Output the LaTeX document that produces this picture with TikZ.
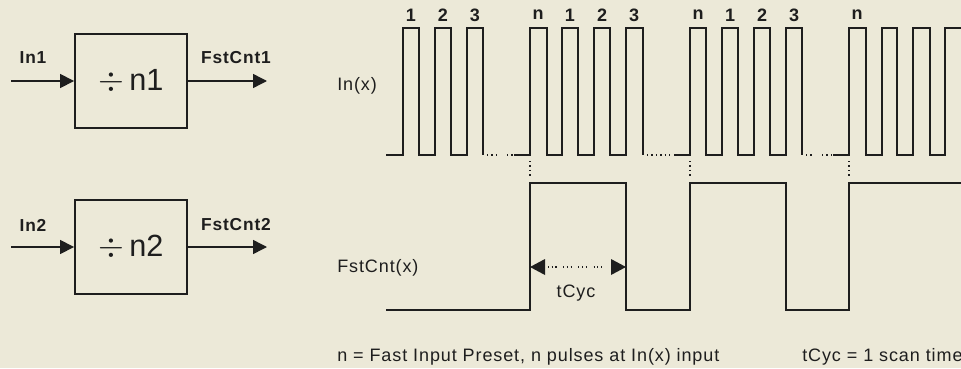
\documentclass[tikz,border=0pt]{standalone}
\usepackage{fontspec}
\setmainfont{Liberation Sans}
\newfontfamily\widesans[LetterSpace=5]{Liberation Sans}
\usetikzlibrary{arrows.meta}
\definecolor{bgc}{HTML}{ECE9D8}
\definecolor{ink}{HTML}{1E1E1E}
\tikzset{
  px/.style={x=0.75pt,y=-0.75pt},
  wave/.style={draw=ink,line width=1.4pt,line join=miter},
  dotline/.style={draw=ink,line width=1.4pt,dash pattern=on 1.1pt off 2.2pt},
  blockbox/.style={draw=ink,line width=1.4pt,minimum width=84pt,minimum height=70.5pt,inner sep=0pt,font=\fontsize{23}{26}\selectfont,text=ink},
  sig/.style={draw=ink,line width=1.1pt,-{Triangle[length=10.5pt,width=10.5pt]}},
  blab/.style={font=\widesans\bfseries\fontsize{13}{15}\selectfont,text=ink,inner sep=0pt},
  tlab/.style={font=\widesans\fontsize{13.5}{16}\selectfont,text=ink,inner sep=0pt},
  plab/.style={font=\bfseries\fontsize{13.5}{16}\selectfont,text=ink,inner sep=0pt},
}
\begin{document}
\begin{tikzpicture}[px]
\fill[bgc] (0,0) rectangle (961,368);
\useasboundingbox (0,0) rectangle (961,368);

% block diagram
\node[blockbox] (b1) at (131,81) {$\div$\,n1};
\node[blockbox] (b2) at (131,247) {$\div$\,n2};
\coordinate (i1) at (11,81);
\coordinate (o1) at (267,81);
\coordinate (i2) at (11,247);
\coordinate (o2) at (267,247);
\draw[sig] (i1) -- (b1.west);
\draw[sig] (b1.east) -- (o1);
\draw[sig] (i2) -- (b2.west);
\draw[sig] (b2.east) -- (o2);
\node[blab] (l1) at (33,58) {In1};
\node[blab] (l2) at (236,58) {FstCnt1};
\node[blab] (l3) at (33,225) {In2};
\node[blab] (l4) at (236,225) {FstCnt2};

% In(x) waveform
\draw[wave] (386,155) -- (403,155) -- (403,28) -- (419,28) -- (419,155)
  -- (435,155) -- (435,28) -- (451,28) -- (451,155)
  -- (467,155) -- (467,28) -- (483,28) -- (483,155);
\draw[dotline] (487,155) -- (498,155);
\draw[dotline] (507,155) -- (514,155);
\draw[wave] (514,155) -- (530,155) -- (530,28) -- (547,28) -- (547,155)
  -- (562,155) -- (562,28) -- (578,28) -- (578,155)
  -- (594,155) -- (594,28) -- (610,28) -- (610,155)
  -- (626,155) -- (626,28) -- (643,28) -- (643,155);
\draw[dotline] (647,155) -- (673,155);
\draw[wave] (674,155) -- (690,155) -- (690,28) -- (706,28) -- (706,155)
  -- (722,155) -- (722,28) -- (738,28) -- (738,155)
  -- (754,155) -- (754,28) -- (770,28) -- (770,155)
  -- (786,155) -- (786,28) -- (802,28) -- (802,155);
\draw[dotline] (806,155) -- (814,155);
\draw[dotline] (822,155) -- (832,155);
\draw[wave] (833,155) -- (849,155) -- (849,28) -- (866,28) -- (866,155)
  -- (882,155) -- (882,28) -- (897,28) -- (897,155)
  -- (913,155) -- (913,28) -- (930,28) -- (930,155)
  -- (945,155) -- (945,28) -- (962,28);

% pulse labels
\foreach \x/\t in {411/1,443/2,475/3,538/n,570/1,602/2,634/3,698/n,730/1,762/2,794/3,857/n}
  \node[plab] at (\x,15) {\t};

% vertical dotted markers
\foreach \x in {530,690,849}
  \draw[draw=ink,line width=1.1pt,dash pattern=on 1.1pt off 2.2pt] (\x,161) -- (\x,176);

% FstCnt waveform
\draw[wave] (386,310) -- (530,310) -- (530,183) -- (626,183) -- (626,310)
  -- (690,310) -- (690,183) -- (786,183) -- (786,310)
  -- (849,310) -- (849,183) -- (962,183);

% tCyc arrow
\coordinate (ta) at (530,267);
\coordinate (tb) at (626,267);
\coordinate (ta2) at (545,267);
\coordinate (tb2) at (611,267);
\fill[ink] (ta) -- (ta2 |- 0,259) -- (ta2 |- 0,275) -- cycle;
\fill[ink] (tb) -- (tb2 |- 0,259) -- (tb2 |- 0,275) -- cycle;
\draw[draw=ink,line width=0.8pt,dash pattern=on 0.8pt off 2pt on 0.8pt off 2pt on 0.8pt off 5pt] (ta2) ++(3,0) -- ([xshift=-3*0.75pt]tb2);
\node[tlab] (tc) at (576,293) {tCyc};

% signal labels
\node[tlab,anchor=west] (sx) at (337,86) {In(x)};
\node[tlab,anchor=west] (fx) at (337,268) {FstCnt(x)};

% notes
\node[tlab,anchor=west] (n1) at (337,357) {n = Fast Input Preset, n pulses at In(x) input};
\node[tlab,anchor=west] (n2) at (802,357) {tCyc = 1 scan time};
\end{tikzpicture}
\end{document}
